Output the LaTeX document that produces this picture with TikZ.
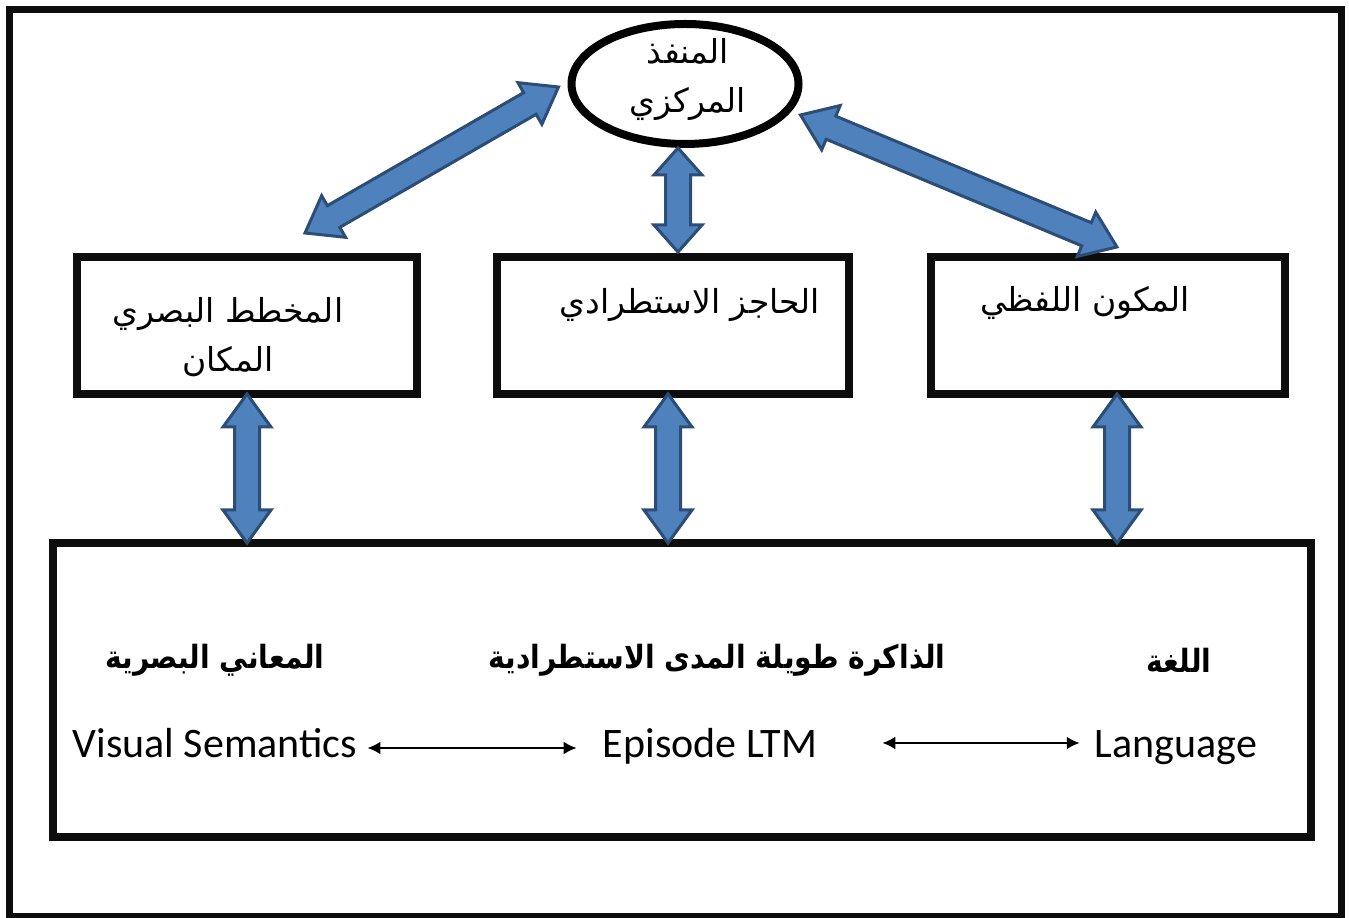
\documentclass[tikz,border=0pt]{standalone}
\usepackage{fontspec}
\setmainfont{Carlito}
\newfontfamily\arabicfont[Script=Arabic]{DejaVu Sans}
\newfontfamily\arabicnarrow[Script=Arabic, FakeStretch=0.88]{DejaVu Sans}
\TeXXeTstate=1
\usetikzlibrary{calc}
\usetikzlibrary{arrows.meta}
\usetikzlibrary{shapes.geometric}
\definecolor{arrfill}{HTML}{4F81BD}
\definecolor{arrline}{HTML}{2C4D75}

% fat two-headed arrow between two points, #1 = head length
\newcommand{\dblarrow}[3][33]{%
 \path let \p1=(#2), \p2=(#3), \n1={atan2(\y2-\y1,\x2-\x1)}, \n2={veclen(\x2-\x1,\y2-\y1)} in
   \pgfextra{\xdef\arrx{\x1}\xdef\arry{\y1}\xdef\arrang{\n1}\xdef\arrlen{\n2}};
 \begin{scope}[shift={(\arrx,\arry)}, rotate=\arrang]
  \draw[blockarr] (0,0) -- (#1,24) -- (#1,12.5) -- (\arrlen-#1,12.5) -- (\arrlen-#1,24) -- (\arrlen,0)
   -- (\arrlen-#1,-24) -- (\arrlen-#1,-12.5) -- (#1,-12.5) -- (#1,-24) -- cycle;
 \end{scope}}

\begin{document}
\begin{tikzpicture}[x=1pt, y=1pt,
  frame/.style={draw=black!95, line width=7},
  blk/.style={draw=black!95, line width=8, outer sep=0, inner sep=0},
  oval/.style={ellipse, draw=black, line width=8, outer sep=0, minimum width=227, minimum height=120},
  blockarr/.style={fill=arrfill, draw=arrline, line width=3, line join=miter},
  arlbl/.style={font=\arabicfont\fontsize{33}{49}\selectfont, align=center, inner sep=0},
  arbold/.style={font=\arabicnarrow\bfseries\fontsize{32}{40}\selectfont, inner sep=0},
  entxt/.style={font=\fontsize{42}{50}\selectfont, anchor=base, inner sep=0, text height=28, text depth=8},
  thinarr/.style={line width=2.5, {Latex[length=13,width=13]}-{Latex[length=13,width=13]}}]
\useasboundingbox (0,0) rectangle (1349,918);
\draw[frame] (9.5,1) rectangle (1341,908);

% central executive
\node[oval] (ce) at (685,834) {};
\node[arlbl] (cetxt) at (688,838) {\beginR المنفذ\endR\\\beginR المركزي\endR};

% slave systems
\node[blk, minimum width=340, minimum height=137] (vss) at (247,592.5) {};
\node[blk, minimum width=352, minimum height=137] (epb) at (673,592.5) {};
\node[blk, minimum width=354, minimum height=137] (phl) at (1108,592.5) {};
\node[arlbl] (vsstxt) at (228,581) {\beginR المخطط البصري\endR\\\beginR المكان\endR};
\node[arlbl] (epbtxt) at (690,613) {\beginR الحاجز الاستطرادي\endR};
\node[arlbl] (phltxt) at (1085,615) {\beginR المكون اللفظي\endR};

% long term memory
\node[blk, minimum width=1258, minimum height=294] (ltm) at (682,228) {};
\node[arbold] (vsar) at (215,258) {\beginR المعاني البصرية\endR};
\node[arbold] (epar) at (717,258) {\beginR الذاكرة طويلة المدى الاستطرادية\endR};
\node[arbold] (langar) at (1179,258) {\beginR اللغة\endR};
\node[entxt] (vs) at (215,160) {Visual Semantics};
\node[entxt] (ep) at (710,160) {Episode LTM};
\node[entxt] (lang) at (1176,160) {Language};
\draw[thinarr, shorten <=10, shorten >=26] (vs.east) -- (ep.west);
\draw[thinarr, shorten <=65, shorten >=15] ([yshift=5]ep.east) -- ([yshift=5]lang.west);

% links
\dblarrow{$(ce.west)+(-13,-3)$}{$(vss.north)+(58,24)$}
\dblarrow[27]{$(ce.south)+(-7,-4)$}{$(epb.north)+(5,5)$}
\dblarrow{$(ce.east)+(2,-31)$}{$(phl.north)+(9,10)$}
\dblarrow{vss.south}{vss.south |- ltm.north}
\dblarrow{$(epb.south)+(-5,0)$}{$(epb.south |- ltm.north)+(-5,0)$}
\dblarrow{$(phl.south)+(9,0)$}{$(phl.south |- ltm.north)+(9,0)$}
\end{tikzpicture}
\end{document}
